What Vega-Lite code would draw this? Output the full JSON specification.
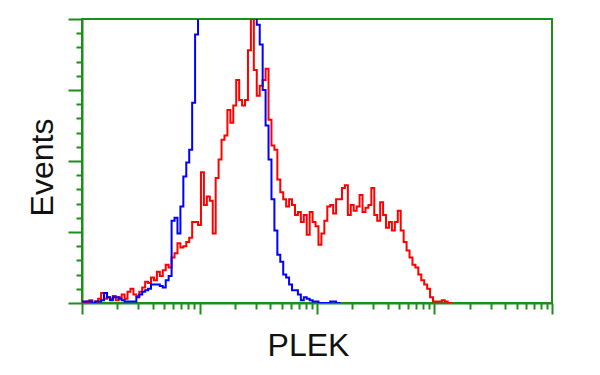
{
  "$schema": "https://vega.github.io/schema/vega-lite/v6.json",
  "width": 470,
  "height": 284,
  "autosize": {"type": "none"},
  "padding": {"left": 82, "top": 19, "right": 48, "bottom": 72},
  "background": "white",
  "usermeta": {"embedOptions": {"actions": false}},
  "config": {"view": {"stroke": "#1b8f1b", "strokeWidth": 2}},
  "datasets": {
    "plek": [
      {"fl": 1.000, "events": 0}, {"fl": 1.059, "events": 0}, {"fl": 1.122, "events": 1}, {"fl": 1.189, "events": 2},
      {"fl": 1.259, "events": 0}, {"fl": 1.334, "events": 1}, {"fl": 1.413, "events": 3}, {"fl": 1.496, "events": 7},
      {"fl": 1.585, "events": 3}, {"fl": 1.679, "events": 4}, {"fl": 1.778, "events": 3}, {"fl": 1.884, "events": 5},
      {"fl": 1.995, "events": 2}, {"fl": 2.113, "events": 4}, {"fl": 2.239, "events": 6}, {"fl": 2.371, "events": 3},
      {"fl": 2.512, "events": 8}, {"fl": 2.661, "events": 10}, {"fl": 2.818, "events": 6}, {"fl": 2.985, "events": 5},
      {"fl": 3.162, "events": 8}, {"fl": 3.350, "events": 11}, {"fl": 3.548, "events": 15}, {"fl": 3.758, "events": 14},
      {"fl": 3.981, "events": 18}, {"fl": 4.217, "events": 16}, {"fl": 4.467, "events": 22}, {"fl": 4.732, "events": 19},
      {"fl": 5.012, "events": 23}, {"fl": 5.309, "events": 27}, {"fl": 5.623, "events": 25}, {"fl": 5.957, "events": 32},
      {"fl": 6.310, "events": 35}, {"fl": 6.683, "events": 42}, {"fl": 7.079, "events": 39}, {"fl": 7.499, "events": 40},
      {"fl": 7.943, "events": 43}, {"fl": 8.414, "events": 46}, {"fl": 8.913, "events": 57}, {"fl": 9.441, "events": 57},
      {"fl": 10.00, "events": 55}, {"fl": 10.59, "events": 92}, {"fl": 11.22, "events": 69}, {"fl": 11.89, "events": 75},
      {"fl": 12.59, "events": 72}, {"fl": 13.34, "events": 49}, {"fl": 14.13, "events": 88}, {"fl": 14.96, "events": 101},
      {"fl": 15.85, "events": 115}, {"fl": 16.79, "events": 118}, {"fl": 17.78, "events": 136}, {"fl": 18.84, "events": 127},
      {"fl": 19.95, "events": 139}, {"fl": 21.13, "events": 157}, {"fl": 22.39, "events": 143}, {"fl": 23.71, "events": 139},
      {"fl": 25.12, "events": 143}, {"fl": 26.61, "events": 178}, {"fl": 28.18, "events": 200}, {"fl": 29.85, "events": 164},
      {"fl": 31.62, "events": 146}, {"fl": 33.50, "events": 153}, {"fl": 35.48, "events": 157}, {"fl": 37.58, "events": 165},
      {"fl": 39.81, "events": 129}, {"fl": 42.17, "events": 111}, {"fl": 44.67, "events": 108}, {"fl": 47.32, "events": 87},
      {"fl": 50.12, "events": 78}, {"fl": 53.09, "events": 73}, {"fl": 56.23, "events": 68}, {"fl": 59.57, "events": 73},
      {"fl": 63.10, "events": 69}, {"fl": 66.83, "events": 62}, {"fl": 70.79, "events": 64}, {"fl": 74.99, "events": 57},
      {"fl": 79.43, "events": 62}, {"fl": 84.14, "events": 48}, {"fl": 89.13, "events": 64}, {"fl": 94.41, "events": 57},
      {"fl": 100.0, "events": 54}, {"fl": 105.9, "events": 41}, {"fl": 112.2, "events": 49}, {"fl": 118.9, "events": 58},
      {"fl": 125.9, "events": 68}, {"fl": 133.4, "events": 69}, {"fl": 141.3, "events": 63}, {"fl": 149.6, "events": 73},
      {"fl": 158.5, "events": 73}, {"fl": 167.9, "events": 81}, {"fl": 177.8, "events": 83}, {"fl": 188.4, "events": 62},
      {"fl": 199.5, "events": 69}, {"fl": 211.3, "events": 65}, {"fl": 223.9, "events": 68}, {"fl": 237.1, "events": 76},
      {"fl": 251.2, "events": 64}, {"fl": 266.1, "events": 67}, {"fl": 281.8, "events": 69}, {"fl": 298.5, "events": 81},
      {"fl": 316.2, "events": 62}, {"fl": 335.0, "events": 58}, {"fl": 354.8, "events": 71}, {"fl": 375.8, "events": 62},
      {"fl": 398.1, "events": 53}, {"fl": 421.7, "events": 57}, {"fl": 446.7, "events": 51}, {"fl": 473.2, "events": 57},
      {"fl": 501.2, "events": 65}, {"fl": 530.9, "events": 51}, {"fl": 562.3, "events": 43}, {"fl": 595.7, "events": 37},
      {"fl": 631.0, "events": 32}, {"fl": 668.3, "events": 27}, {"fl": 707.9, "events": 25}, {"fl": 749.9, "events": 20},
      {"fl": 794.3, "events": 16}, {"fl": 841.4, "events": 13}, {"fl": 891.3, "events": 10}, {"fl": 944.1, "events": 4},
      {"fl": 1000, "events": 1}, {"fl": 1059, "events": 1}, {"fl": 1122, "events": 1}, {"fl": 1189, "events": 2},
      {"fl": 1259, "events": 1}, {"fl": 1334, "events": 0}, {"fl": 1413, "events": 0}
    ],
    "control": [
      {"fl": 1.000, "events": 1}, {"fl": 1.059, "events": 1}, {"fl": 1.122, "events": 1}, {"fl": 1.189, "events": 1},
      {"fl": 1.259, "events": 0}, {"fl": 1.334, "events": 1}, {"fl": 1.413, "events": 1}, {"fl": 1.496, "events": 2},
      {"fl": 1.585, "events": 7}, {"fl": 1.679, "events": 4}, {"fl": 1.778, "events": 2}, {"fl": 1.884, "events": 4},
      {"fl": 1.995, "events": 4}, {"fl": 2.113, "events": 3}, {"fl": 2.239, "events": 2}, {"fl": 2.371, "events": 1},
      {"fl": 2.512, "events": 1}, {"fl": 2.661, "events": 1}, {"fl": 2.818, "events": 1}, {"fl": 2.985, "events": 4},
      {"fl": 3.162, "events": 6}, {"fl": 3.350, "events": 8}, {"fl": 3.548, "events": 9}, {"fl": 3.758, "events": 10},
      {"fl": 3.981, "events": 13}, {"fl": 4.217, "events": 13}, {"fl": 4.467, "events": 13}, {"fl": 4.732, "events": 12},
      {"fl": 5.012, "events": 11}, {"fl": 5.309, "events": 16}, {"fl": 5.623, "events": 19}, {"fl": 5.957, "events": 58},
      {"fl": 6.310, "events": 60}, {"fl": 6.683, "events": 49}, {"fl": 7.079, "events": 68}, {"fl": 7.499, "events": 89},
      {"fl": 7.943, "events": 99}, {"fl": 8.414, "events": 108}, {"fl": 8.913, "events": 141}, {"fl": 9.441, "events": 189},
      {"fl": 10.00, "events": 230}, {"fl": 10.59, "events": 260}, {"fl": 11.22, "events": 285}, {"fl": 11.89, "events": 300},
      {"fl": 12.59, "events": 312}, {"fl": 13.34, "events": 320}, {"fl": 14.13, "events": 325}, {"fl": 14.96, "events": 328},
      {"fl": 15.85, "events": 328}, {"fl": 16.79, "events": 325}, {"fl": 17.78, "events": 320}, {"fl": 18.84, "events": 312},
      {"fl": 19.95, "events": 300}, {"fl": 21.13, "events": 290}, {"fl": 22.39, "events": 278}, {"fl": 23.71, "events": 265},
      {"fl": 25.12, "events": 250}, {"fl": 26.61, "events": 238}, {"fl": 28.18, "events": 225}, {"fl": 29.85, "events": 212},
      {"fl": 31.62, "events": 196}, {"fl": 33.50, "events": 182}, {"fl": 35.48, "events": 150}, {"fl": 37.58, "events": 125},
      {"fl": 39.81, "events": 101}, {"fl": 42.17, "events": 73}, {"fl": 44.67, "events": 51}, {"fl": 47.32, "events": 34},
      {"fl": 50.12, "events": 29}, {"fl": 53.09, "events": 20}, {"fl": 56.23, "events": 18}, {"fl": 59.57, "events": 13},
      {"fl": 63.10, "events": 9}, {"fl": 66.83, "events": 9}, {"fl": 70.79, "events": 6}, {"fl": 74.99, "events": 2},
      {"fl": 79.43, "events": 4}, {"fl": 84.14, "events": 3}, {"fl": 89.13, "events": 2}, {"fl": 94.41, "events": 1},
      {"fl": 100.0, "events": 1}, {"fl": 105.9, "events": 0}, {"fl": 112.2, "events": 0}, {"fl": 118.9, "events": 0},
      {"fl": 125.9, "events": 0}, {"fl": 133.4, "events": 1}, {"fl": 141.3, "events": 1}, {"fl": 149.6, "events": 0},
      {"fl": 158.5, "events": 0}
    ]
  },
  "encoding": {
    "x": {
      "field": "fl",
      "type": "quantitative",
      "scale": {"type": "log", "domain": [1, 10000], "nice": false},
      "axis": {
        "title": "PLEK",
        "labels": false,
        "grid": false,
        "values": [1,2,3,4,5,6,7,8,9,10,20,30,40,50,60,70,80,90,100,200,300,400,500,600,700,800,900,1000,2000,3000,4000,5000,6000,7000,8000,9000,10000],
        "tickSize": {"condition": {"test": "indexof([1,10,100,1000,10000], datum.value) >= 0", "value": 11}, "value": 6},
        "tickColor": "#1b8f1b",
        "tickWidth": 2,
        "domainColor": "#1b8f1b",
        "domainWidth": 2,
        "titleFont": "Liberation Sans",
        "titleFontSize": 32,
        "titleFontWeight": "normal",
        "titleColor": "#111111",
        "titleX": 226,
        "titleY": 52,
        "titleAlign": "center",
        "titleBaseline": "alphabetic"
      }
    },
    "y": {
      "field": "events",
      "type": "quantitative",
      "scale": {"domain": [0, 200], "nice": false},
      "axis": {
        "title": "Events",
        "labels": false,
        "grid": false,
        "values": [0,10,20,30,40,50,60,70,80,90,100,110,120,130,140,150,160,170,180,190,200],
        "tickSize": {"condition": {"test": "datum.value % 50 === 0", "value": 14}, "value": 6},
        "tickColor": "#1b8f1b",
        "tickWidth": 2,
        "domainColor": "#1b8f1b",
        "domainWidth": 2,
        "titleFont": "Liberation Sans",
        "titleFontSize": 32,
        "titleFontWeight": "normal",
        "titleColor": "#111111",
        "titleAngle": 270,
        "titleX": -30,
        "titleY": 148,
        "titleAlign": "center",
        "titleBaseline": "alphabetic"
      }
    }
  },
  "layer": [
    {
      "data": {"name": "plek"},
      "mark": {"type": "line", "interpolate": "step", "color": "#ff0000", "strokeWidth": 2, "clip": true}
    },
    {
      "data": {"name": "control"},
      "mark": {"type": "line", "interpolate": "step", "color": "#0000ff", "strokeWidth": 2, "clip": true}
    }
  ]
}
